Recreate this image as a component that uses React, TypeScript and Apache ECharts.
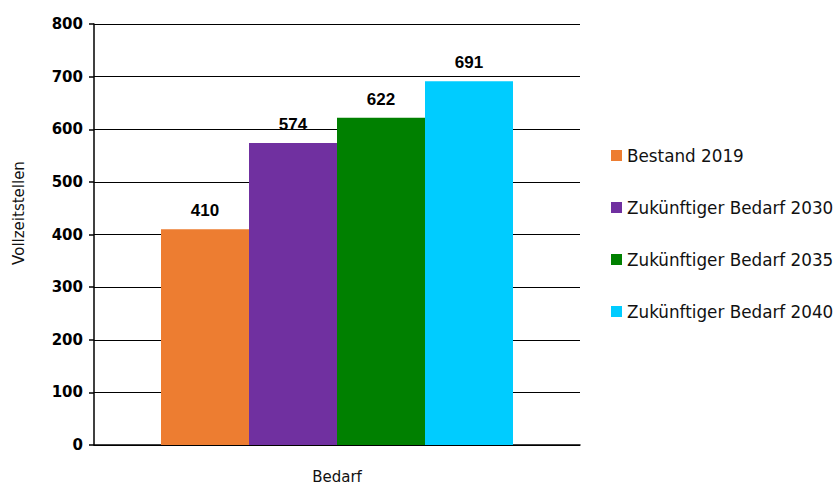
import React, { useEffect, useRef } from "react";
import * as echarts from "echarts";

const categories = ["Bedarf"];
const seriesNames = ["Bestand 2019", "Zukünftiger Bedarf 2030", "Zukünftiger Bedarf 2035", "Zukünftiger Bedarf 2040"];
const seriesValues = [410, 574, 622, 691];
const seriesColors = ["#ED7D31", "#7030A0", "#008000", "#00CCFF"];
const yAxisTitle = "Vollzeitstellen";

export default function App() {
  const ref = useRef<HTMLDivElement>(null);
  useEffect(() => {
    if (!ref.current) return;
    const chart = echarts.init(ref.current, null, { renderer: "svg" });
    const font = "'DejaVu Sans', sans-serif";
    const labelFont = "'Liberation Sans', Arial, sans-serif";
    chart.setOption({
      animation: false,
      textStyle: { fontFamily: font },
      grid: { left: 94, right: 257, top: 24, bottom: 42 },
      legend: {
        orient: "vertical",
        left: 606,
        top: 142,
        itemWidth: 11,
        itemHeight: 11,
        itemGap: 35,
        icon: "rect",
        textStyle: { fontSize: 16.8, color: "#111", fontFamily: font },
        data: seriesNames,
      },
      xAxis: {
        type: "category",
        data: categories,
        axisLine: { show: true, lineStyle: { color: "#000", width: 1.5 } },
        axisTick: { show: false },
        axisLabel: { fontSize: 15, color: "#111", margin: 24, fontFamily: font },
      },
      yAxis: {
        type: "value",
        min: 0,
        max: 800,
        interval: 100,
        axisLine: { show: true, lineStyle: { color: "#000", width: 1.5 } },
        axisTick: { show: true, length: 5, lineStyle: { color: "#000", width: 1.5 } },
        axisLabel: { fontSize: 15, fontWeight: "bold", color: "#000", margin: 11, fontFamily: font },
        splitLine: { show: true, lineStyle: { color: "#000", width: 1.2 } },
      },
      graphic: [
        {
          type: "text",
          x: 19,
          y: 213,
          rotation: Math.PI / 2,
          style: {
            text: yAxisTitle,
            fontSize: 15,
            fill: "#111",
            fontFamily: font,
            align: "center",
            verticalAlign: "middle",
          },
        },
      ],
      series: seriesNames.map((name, i) => ({
        name,
        type: "bar",
        data: [seriesValues[i]],
        barWidth: 88,
        barGap: "0%",
        itemStyle: { color: seriesColors[i] },
        label: {
          show: true,
          position: "top",
          distance: 10,
          fontSize: 17,
          fontWeight: "bold",
          color: "#000",
          fontFamily: labelFont,
        },
      })),
    });
    return () => chart.dispose();
  }, []);
  return (
    <div
      ref={ref}
      style={{ position: "absolute", left: 0, top: 0, width: 837, height: 487 }}
    />
  );
}
